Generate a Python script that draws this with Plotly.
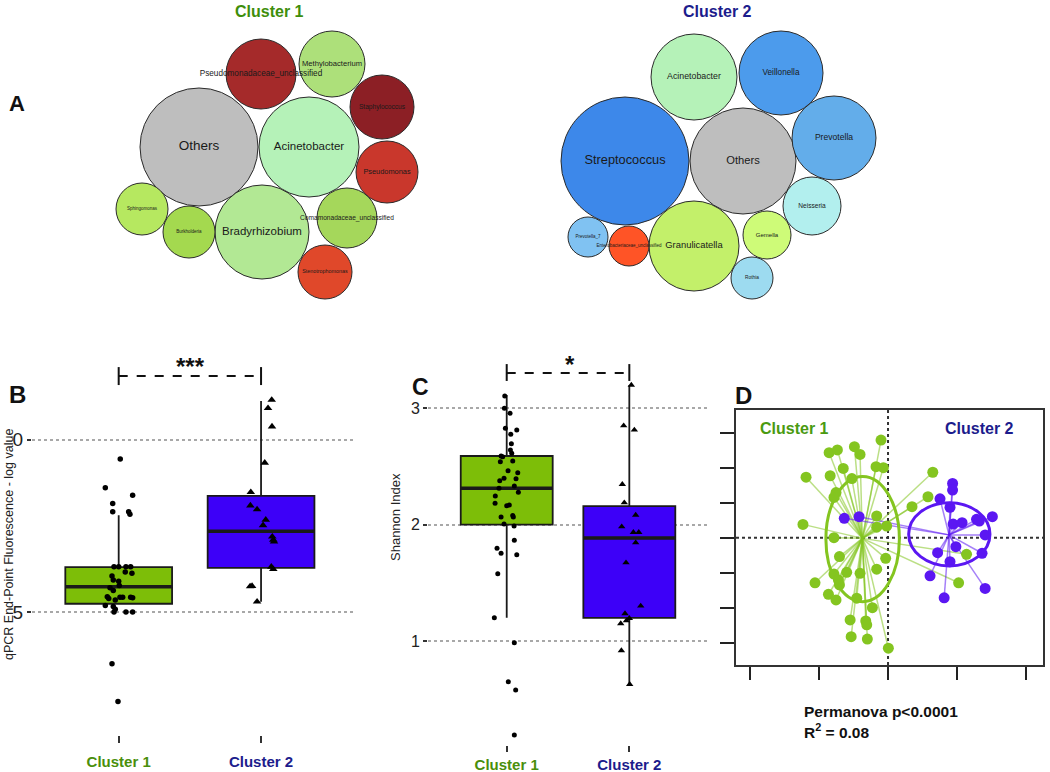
import plotly.graph_objects as go

W, H = 1050, 772
FONT = "Liberation Sans, Arial, sans-serif"

# ---------------- Panel A data (bubble layout: centre x, centre y, radius) ----------------
c1_taxa = ["Others", "Acinetobacter", "Pseudomonadaceae_unclassified", "Methylobacterium",
           "Staphylococcus", "Pseudomonas", "Comamonadaceae_unclassified", "Stenotrophomonas",
           "Bradyrhizobium", "Burkholderia", "Sphingomonas"]
c1_x = [199, 309, 261, 332, 382, 387, 347, 325, 262, 189, 142]
c1_y = [147, 147, 74, 64, 107, 172, 218, 272, 232, 232, 209]
c1_r = [59, 50, 35, 33, 32, 31, 30, 27, 47, 26, 26]
c1_col = ["#BEBEBE", "#B5F2B8", "#A52A2A", "#ADE07A", "#8C1F25", "#C9372C", "#A5D75B",
          "#E0482A", "#B2E894", "#A4D94F", "#B6E860"]
c1_fs = [13.5, 11.5, 8.2, 7.6, 6.6, 7.4, 6.6, 5.4, 11.5, 4.5, 4.5]

c2_taxa = ["Streptococcus", "Others", "Acinetobacter", "Veillonella", "Prevotella", "Neisseria",
           "Gemella", "Rothia", "Granulicatella", "Enterobacteriaceae_unclassified", "Prevotella_7"]
c2_x = [625, 743, 694, 781, 834, 812, 767, 752, 694, 629, 588]
c2_y = [161, 161, 77, 73, 138, 206, 235, 278, 246, 246, 237]
c2_r = [64, 53, 43, 42, 42, 29, 24, 21, 45, 20, 20]
c2_col = ["#3D88EA", "#BEBEBE", "#B5F2B8", "#4C9BEC", "#63ADEA", "#B2EFEE", "#CEFB78",
          "#9DDBF0", "#C3F06A", "#FF5426", "#80C2F2"]
c2_fs = [12.8, 11.2, 8.8, 8.2, 8.6, 6.6, 6.0, 4.8, 9.4, 4.5, 4.5]

# ---------------- Panel B data (qPCR) ----------------
groups = ["Cluster 1", "Cluster 2"]
b_c1_vals = [0.56, 1.39, 1.61, 1.85, 2.09, 2.09, 2.16, 3.68, 3.68, 3.68, 3.68, 3.83, 3.87, 3.95,
             4.06, 4.10, 4.22, 4.29, 4.37, 4.55, 4.60, 4.64, 4.56, 4.56, 4.56, 4.58, 4.80, 4.83,
             4.91, 4.99, 4.99, 4.99, 6.49, 7.58]
b_c1_jit = [0.011, -0.094, 0.098, -0.042, -0.042, 0.070, 0.079, -0.033, 0.0, 0.051, 0.084, 0.046,
            0.093, -0.047, -0.038, 0.0, 0.004, -0.061, -0.038, -0.08, -0.07, -0.024, 0.009, 0.028,
            0.084, 0.098, -0.094, -0.038, -0.024, -0.033, 0.051, 0.098, -0.047, -0.005]
b_c2_vals = [-1.15, -0.91, -0.38, 0.67, 1.52, 1.91, 2.02, 2.32, 2.48, 2.81, 2.90, 2.95, 3.68, 3.75,
             4.24, 4.25, 4.69]
b_c2_jit = [0.075, 0.049, 0.077, 0.026, -0.072, -0.075, -0.028, 0.033, 0.014, 0.079, 0.086, 0.091,
            0.072, 0.086, -0.063, -0.077, -0.028]
b_low = [2.19, -1.12]
b_q1 = [3.69, 1.63]
b_med = [4.26, 2.65]
b_q3 = [4.75, 3.71]
b_high = [4.75, 4.69]
b_ticks = [0, 5]
b_ticktext = ["0", "5"]

# ---------------- Panel C data (Shannon) ----------------
c_c1_vals = [3.106, 3.0, 2.957, 2.828, 2.814, 2.777, 2.696, 2.642, 2.613, 2.59, 2.584, 2.541, 2.547,
             2.464, 2.447, 2.378, 2.399, 2.395, 2.313, 2.332, 2.278, 2.247, 2.184, 2.163, 2.169,
             2.067, 2.078, 2.067, 2.006, 1.989, 1.866, 1.797, 1.754, 1.742, 1.579, 1.201, 0.986,
             0.651, 0.58, 0.193]
c_c1_jit = [-0.016, -0.019, 0.027, -0.011, 0.082, 0.033, 0.038, 0.030, 0.041, -0.046, -0.033, -0.052,
            0.049, 0.011, 0.090, -0.057, -0.022, 0.076, -0.063, 0.062, 0.095, -0.093, -0.095, 0.0,
            0.021, -0.046, 0.049, 0.054, -0.022, 0.060, 0.062, -0.079, -0.046, 0.082, -0.073, -0.101,
            0.062, 0.013, 0.073, 0.062]
c_c2_vals = [3.20, 2.851, 2.814, 2.347, 2.189, 2.083, 1.983, 1.935, 1.935, 1.845, 1.674, 1.302, 1.236,
             1.175, 1.15, 1.196, 0.918, 0.629]
c_c2_jit = [0.016, -0.046, 0.041, -0.057, -0.041, 0.052, -0.062, 0.033, 0.077, 0.052, -0.027, 0.093,
            -0.035, -0.024, -0.070, 0.0, -0.065, 0.003]
c_low = [1.20, 0.62]
c_q1 = [2.0, 1.20]
c_med = [2.313, 1.886]
c_q3 = [2.59, 2.16]
c_high = [3.114, 3.20]
c_ticks = [1, 2, 3]

# ---------------- Panel D data (PCoA) ----------------
d1_x = [-0.0203, -0.171, -0.147, -0.0976, -0.0812, -0.130, -0.0348, -0.0135, -0.168, -0.238, -0.105,
        0.130, -0.151, -0.157, 0.116, 0.0696, -0.0329, -0.0039, -0.247, -0.157, -0.0329, -0.141,
        -0.0068, 0.228, -0.157, -0.120, -0.0812, -0.0329, -0.144, -0.212, -0.141, 0.205, -0.173,
        -0.151, -0.0908, -0.0454, -0.110, -0.0647, -0.0618, -0.107, -0.060, 0.001]
d1_y = [0.279, 0.243, 0.251, 0.260, 0.238, 0.198, 0.203, 0.200, 0.177, 0.173, 0.169, 0.187, 0.129,
        0.115, 0.117, 0.0886, 0.062, 0.0334, 0.038, 0.0, 0.030, -0.054, -0.059, -0.0475, -0.104,
        -0.099, -0.102, -0.090, -0.121, -0.129, -0.135, -0.129, -0.162, -0.178, -0.173, -0.200,
        -0.235, -0.238, -0.249, -0.283, -0.290, -0.316]
d2_x = [0.1875, 0.1875, 0.151, 0.180, -0.127, -0.084, 0.189, 0.215, 0.257, 0.303, 0.265, 0.282,
        0.197, 0.144, 0.180, 0.273, 0.122, 0.282, 0.163]
d2_y = [0.155, 0.136, 0.111, 0.087, 0.0554, 0.060, 0.039, 0.043, 0.0526, 0.060, 0.0477, 0.0077,
        -0.0257, -0.043, -0.0686, -0.0446, -0.109, -0.145, -0.172]
d_centroid_x = [-0.0745, 0.177]
d_centroid_y = [-0.002, 0.008]
d_ell_cx = [-0.0737, 0.178]
d_ell_cy = [-0.004, 0.0097]
d_ell_rx = [0.1067, 0.118]
d_ell_ry = [0.179, 0.0905]
d_xticks = [-0.4, -0.2, 0.0, 0.2, 0.4]
d_yticks = [-0.3, -0.2, -0.1, 0.0, 0.1, 0.2, 0.3]

# ---------------- colours ----------------
GREEN_BOX = "#7DBE08"
BLUE_BOX = "#3D00F8"
GREEN_TXT = "#4A8F0C"
NAVY_TXT = "#1C1C8C"
GREEN_PT = "#84C520"
PURPLE_PT = "#5B17F2"


def dx(px):
    return px / W


def dy(py):
    return 1 - py / H


def ann(text, x, y, size, color="#111", **kw):
    d = dict(text=text, x=dx(x), y=dy(y), xref="paper", yref="paper", showarrow=False,
             xanchor="center", yanchor="middle", font=dict(family=FONT, size=size, color=color))
    d.update(kw)
    return d


fig = go.Figure()
shapes = []
annotations = []

# ---------------- Panel A ----------------
for axn, taxa, xs, ys, rs, cols, fss in [
    ("", c1_taxa, c1_x, c1_y, c1_r, c1_col, c1_fs),
    ("2", c2_taxa, c2_x, c2_y, c2_r, c2_col, c2_fs),
]:
    for t, x, y, r, c in zip(taxa, xs, ys, rs, cols):
        shapes.append(dict(type="circle", xref="x" + axn, yref="y" + axn,
                           x0=x - r, x1=x + r, y0=y - r, y1=y + r,
                           fillcolor=c, line=dict(color="#2b2b2b", width=1), layer="below"))
    fig.add_trace(go.Scatter(x=xs, y=ys, text=taxa, mode="text",
                             textfont=dict(family=FONT, size=fss, color="#1a1a1a"),
                             xaxis="x" + axn, yaxis="y" + axn, hoverinfo="text",
                             showlegend=False, cliponaxis=False))

annotations += [
    ann("<b>Cluster 1</b>", 269, 11, 16, "#3E8E0B"),
    ann("<b>Cluster 2</b>", 717, 11, 16, NAVY_TXT),
    ann("<b>A</b>", 17, 103, 22),
]


# ---------------- helper for box panels ----------------
def box_panel(axn, lows, q1s, meds, q3s, highs, pts):
    for i, (lo, a, m, b, hi) in enumerate(zip(lows, q1s, meds, q3s, highs)):
        col = GREEN_BOX if i == 0 else BLUE_BOX
        fig.add_trace(go.Box(x=[i + 1], lowerfence=[lo], q1=[a], median=[m], q3=[b],
                             upperfence=[hi], width=0.75, whiskerwidth=0,
                             fillcolor=col, line=dict(color="#1a1a1a", width=1.8),
                             boxpoints=False, xaxis="x" + axn, yaxis="y" + axn,
                             showlegend=False))
        fig.add_trace(go.Scatter(x=[i + 1 - 0.375, i + 1 + 0.375], y=[m, m], mode="lines",
                                 line=dict(color="#1a1a1a", width=3.5),
                                 xaxis="x" + axn, yaxis="y" + axn, showlegend=False,
                                 hoverinfo="skip"))
    for i, (vals, jit, sym, size) in enumerate(pts):
        fig.add_trace(go.Scatter(x=[i + 1 + j for j in jit], y=vals, mode="markers",
                                 marker=dict(symbol=sym, size=size, color="#000000"),
                                 xaxis="x" + axn, yaxis="y" + axn, showlegend=False,
                                 cliponaxis=False))


box_panel("3", b_low, b_q1, b_med, b_q3, b_high,
          [(b_c1_vals, b_c1_jit, "circle", 5.5), (b_c2_vals, b_c2_jit, "triangle-up", 7.5)])
box_panel("4", c_low, c_q1, c_med, c_q3, c_high,
          [(c_c1_vals, c_c1_jit, "circle", 5), (c_c2_vals, c_c2_jit, "triangle-up", 6.5)])

cat_text = ["<span style='color:%s'><b>%s</b></span>" % (GREEN_TXT, groups[0]),
            "<span style='color:%s'><b>%s</b></span>" % (NAVY_TXT, groups[1])]

# significance brackets
for axn, ybar, ycap0, ycap1 in [("3", -1.84, -2.10, -1.58), ("4", 3.303, 3.38, 3.235)]:
    shapes.append(dict(type="line", xref="x" + axn, yref="y" + axn, x0=1, x1=2, y0=ybar, y1=ybar,
                       line=dict(color="#111", width=2, dash="dash")))
    for xc in [1, 2]:
        shapes.append(dict(type="line", xref="x" + axn, yref="y" + axn, x0=xc, x1=xc,
                           y0=ycap0, y1=ycap1, line=dict(color="#111", width=2)))

annotations += [
    ann("<b>***</b>", 190, 366, 24),
    ann("<b>*</b>", 570, 364, 24),
    ann("<b>B</b>", 17, 394, 24),
    ann("<b>C</b>", 420, 387, 23),
    ann("<b>D</b>", 743, 395, 24),
    ann("qPCR End-Point Fluorescence - log value", 9, 545, 12.5, "#222", textangle=-90),
    ann("Shannon Index", 395, 517, 13, "#222", textangle=-90),
]

# ---------------- Panel D ----------------
for (px_, py_, cx, cy, col) in [(d1_x, d1_y, d_centroid_x[0], d_centroid_y[0], "rgba(132,197,32,0.55)"),
                               (d2_x, d2_y, d_centroid_x[1], d_centroid_y[1], "rgba(91,23,242,0.55)")]:
    lx, ly = [], []
    for x, y in zip(px_, py_):
        lx += [cx, x, None]
        ly += [cy, y, None]
    fig.add_trace(go.Scatter(x=lx, y=ly, mode="lines", line=dict(color=col, width=1.5),
                             xaxis="x5", yaxis="y5", showlegend=False, hoverinfo="skip"))
fig.add_trace(go.Scatter(x=d1_x, y=d1_y, mode="markers",
                         marker=dict(size=11, color=GREEN_PT), xaxis="x5", yaxis="y5",
                         showlegend=False))
fig.add_trace(go.Scatter(x=d2_x, y=d2_y, mode="markers",
                         marker=dict(size=11, color=PURPLE_PT), xaxis="x5", yaxis="y5",
                         showlegend=False))
for cx, cy, rx, ry, col in zip(d_ell_cx, d_ell_cy, d_ell_rx, d_ell_ry, [GREEN_PT, PURPLE_PT]):
    shapes.append(dict(type="circle", xref="x5", yref="y5", x0=cx - rx, x1=cx + rx,
                       y0=cy - ry, y1=cy + ry, line=dict(color=col, width=3), layer="above"))
shapes.append(dict(type="line", xref="x5", yref="y5 domain", x0=0, x1=0, y0=0, y1=1,
                   line=dict(color="#333", width=2, dash="dot"), layer="below"))
shapes.append(dict(type="line", xref="x5 domain", yref="y5", x0=0, x1=1, y0=0, y1=0,
                   line=dict(color="#333", width=2, dash="dot"), layer="below"))

annotations += [
    ann("<b>Cluster 1</b>", 794, 428, 16, "#4A9A10"),
    ann("<b>Cluster 2</b>", 979, 428, 16, NAVY_TXT),
    ann("<b>Permanova p<0.0001</b>", 802, 711, 15.5, xanchor="left"),
    ann("<b>R<sup>2</sup> = 0.08</b>", 802, 731, 15.5, xanchor="left"),
]

hidden = dict(visible=False, showgrid=False, zeroline=False, automargin=False)
grid_y = dict(showgrid=True, gridcolor="#A8A8A8", griddash="dot", gridwidth=1.5, zeroline=False,
              showline=False, ticks="outside", ticklen=4, tickwidth=1.5, tickcolor="#333",
              automargin=False)
cat_x = dict(tickvals=[1, 2], ticktext=cat_text, ticks="outside", tickwidth=1.5, tickcolor="#333",
             showgrid=False, zeroline=False, showline=False, automargin=False,
             tickfont=dict(family=FONT, size=15))
frame = dict(showticklabels=False, ticks="outside", tickwidth=2, tickcolor="#222", showline=True,
             mirror=True, linecolor="#333", linewidth=2, showgrid=False, zeroline=False,
             automargin=False)

fig.update_layout(
    width=W, height=H, margin=dict(l=0, r=0, t=0, b=0, autoexpand=False), autosize=False,
    font=dict(family=FONT),
    paper_bgcolor="white", plot_bgcolor="white", showlegend=False,
    shapes=shapes, annotations=annotations,
    xaxis=dict(domain=[dx(100), dx(440)], range=[100, 440], anchor="y", **hidden),
    yaxis=dict(domain=[dy(310), dy(25)], range=[310, 25], anchor="x", **hidden),
    xaxis2=dict(domain=[dx(550), dx(890)], range=[550, 890], anchor="y2", **hidden),
    yaxis2=dict(domain=[dy(310), dy(25)], range=[310, 25], anchor="x2", **hidden),
    xaxis3=dict(domain=[dx(32), dx(355)], range=[0.391, 2.66], anchor="y3", ticklen=7,
                ticklabelstandoff=6, **cat_x),
    yaxis3=dict(domain=[dy(735), dy(355)], range=[8.55, -2.45], anchor="x3",
                tickvals=b_ticks, ticktext=b_ticktext,
                tickfont=dict(family=FONT, size=19, color="#222"), **grid_y),
    xaxis4=dict(domain=[dx(428), dx(710)], range=[0.358, 2.658], anchor="y4", ticklen=6,
                ticklabelstandoff=0, **cat_x),
    yaxis4=dict(domain=[dy(745), dy(355)], range=[0.107, 3.458], anchor="x4",
                tickvals=c_ticks, tickfont=dict(family=FONT, size=16, color="#222"), **grid_y),
    xaxis5=dict(domain=[dx(736), dx(1043)], range=[-0.4414, 0.450], anchor="y5",
                tickvals=d_xticks, ticklen=13, **frame),
    yaxis5=dict(domain=[dy(665), dy(410)], range=[-0.364, 0.365], anchor="x5",
                tickvals=d_yticks, ticklen=14, **frame),
)

fig.write_html("out.html", config={"displayModeBar": False},
               post_script="document.body.style.margin='0px';")
